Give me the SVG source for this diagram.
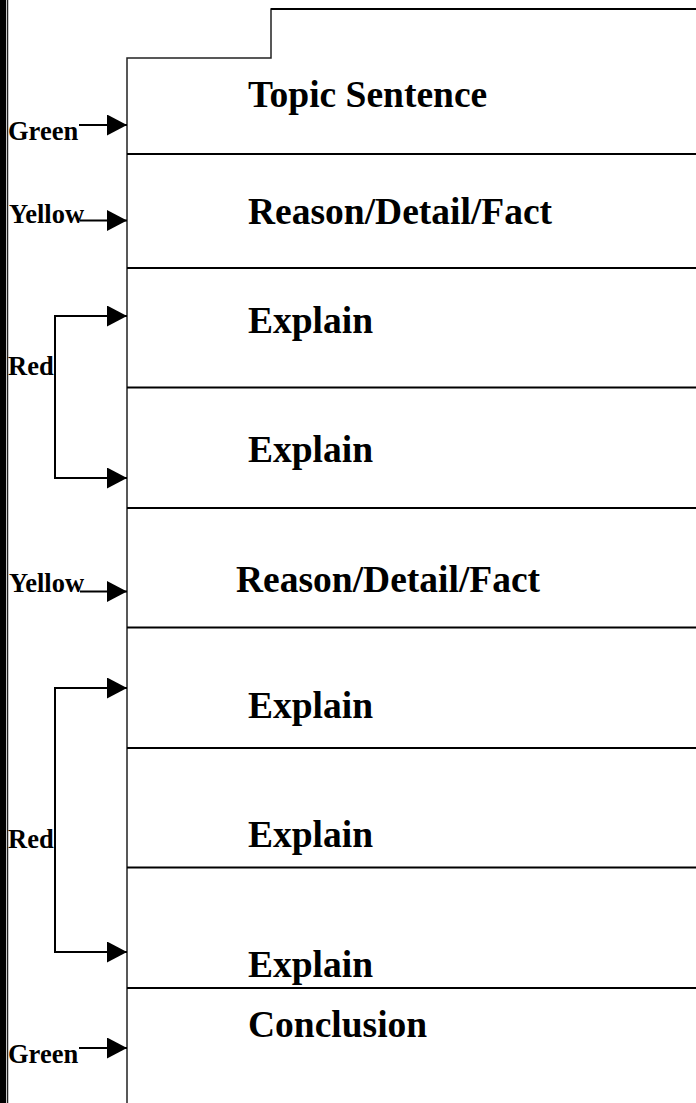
<svg xmlns="http://www.w3.org/2000/svg" width="696" height="1103" viewBox="0 0 696 1103">
<defs>
<style>
.ln{stroke:#000;stroke-width:2;fill:none}
.lt{stroke:#222;stroke-width:1.5;fill:none}
.big{font-family:"Liberation Serif","Times New Roman",serif;font-weight:bold;font-size:37.5px;fill:#000}
.lab{font-family:"Liberation Serif","Times New Roman",serif;font-weight:bold;font-size:26.5px;fill:#000}
</style>
<marker id="ah" markerWidth="20" markerHeight="21" refX="20" refY="10.5" orient="auto" markerUnits="userSpaceOnUse">
<path d="M0,0 L20,10.5 L0,21 Z" fill="#000"/>
</marker>
</defs>
<rect x="0" y="0" width="696" height="1103" fill="#fff"/>
<rect x="0" y="0" width="6" height="1103" fill="#000"/>
<line x1="7.5" y1="0" x2="7.5" y2="1103" class="lt"/>
<g id="frame">
<path d="M127,1103 L127,58 L271,58 L271,9 L696,9" class="lt"/>
<line x1="271" y1="9" x2="696" y2="9" stroke="#000" stroke-width="2"/>
</g>
<g id="dividers">
<line x1="127" y1="154" x2="696" y2="154" class="ln"/>
<line x1="127" y1="268" x2="696" y2="268" class="ln"/>
<line x1="127" y1="387.5" x2="696" y2="387.5" class="ln"/>
<line x1="127" y1="508" x2="696" y2="508" class="ln"/>
<line x1="127" y1="627.5" x2="696" y2="627.5" class="ln"/>
<line x1="127" y1="748" x2="696" y2="748" class="ln"/>
<line x1="127" y1="867.5" x2="696" y2="867.5" class="ln"/>
<line x1="127" y1="988" x2="696" y2="988" class="ln"/>
</g>
<g id="node-topic"><text class="big" x="248" y="107">Topic Sentence</text></g>
<g id="node-reason1"><text class="big" x="248" y="224">Reason/Detail/Fact</text></g>
<g id="node-explain1"><text class="big" x="248" y="333">Explain</text></g>
<g id="node-explain2"><text class="big" x="248" y="462">Explain</text></g>
<g id="node-reason2"><text class="big" x="236" y="592">Reason/Detail/Fact</text></g>
<g id="node-explain3"><text class="big" x="248" y="718">Explain</text></g>
<g id="node-explain4"><text class="big" x="248" y="847">Explain</text></g>
<g id="node-explain5"><text class="big" x="248" y="977">Explain</text></g>
<g id="node-conclusion"><text class="big" x="248" y="1037">Conclusion</text></g>
<g id="labels">
<text class="lab" x="8" y="140">Green</text>
<text class="lab" x="9" y="223">Yellow</text>
<text class="lab" x="8" y="375">Red</text>
<text class="lab" x="9" y="592">Yellow</text>
<text class="lab" x="8" y="848">Red</text>
<text class="lab" x="8" y="1063">Green</text>
</g>
<g id="connectors">
<line x1="79" y1="125" x2="127" y2="125" class="ln" marker-end="url(#ah)"/>
<line x1="80" y1="220.5" x2="127" y2="220.5" class="ln" marker-end="url(#ah)"/>
<path d="M127,316 L55,316 L55,478 L127,478" class="ln"/>
<path d="M105,316 L127,316" class="ln" marker-end="url(#ah)"/>
<path d="M105,478 L127,478" class="ln" marker-end="url(#ah)"/>
<line x1="80" y1="591.5" x2="127" y2="591.5" class="ln" marker-end="url(#ah)"/>
<path d="M127,688 L55,688 L55,952 L127,952" class="ln"/>
<path d="M105,688 L127,688" class="ln" marker-end="url(#ah)"/>
<path d="M105,952 L127,952" class="ln" marker-end="url(#ah)"/>
<line x1="79" y1="1048" x2="127" y2="1048" class="ln" marker-end="url(#ah)"/>
</g>
</svg>
